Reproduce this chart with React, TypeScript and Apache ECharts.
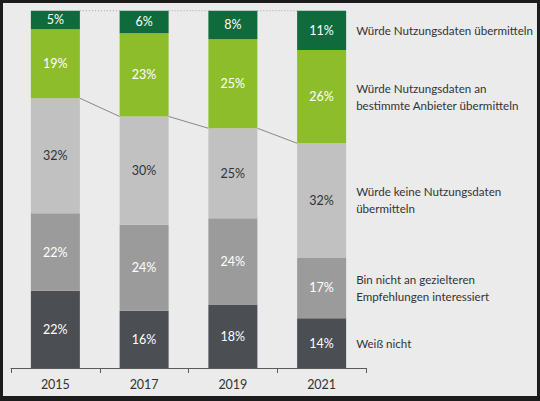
import React, { useEffect, useRef } from "react";
import * as echarts from "echarts";

const categories = ["2015", "2017", "2019", "2021"];
const seriesNames = [
  "Weiß nicht",
  "Bin nicht an gezielteren\nEmpfehlungen interessiert",
  "Würde keine Nutzungsdaten\nübermitteln",
  "Würde Nutzungsdaten an\nbestimmte Anbieter übermitteln",
  "Würde Nutzungsdaten übermitteln",
];
const weissNicht = [21.6, 16.0, 17.8, 13.9];
const nichtInteressiert = [21.7, 24.1, 24.1, 17.0];
const keineDaten = [32.2, 30.3, 25.2, 32.0];
const bestimmteAnbieter = [19.3, 23.3, 24.9, 26.1];
const datenUebermitteln = [5.2, 6.3, 8.0, 11.0];

const seriesValues = [weissNicht, nichtInteressiert, keineDaten, bestimmteAnbieter, datenUebermitteln];
const seriesColors = ["#4b4e53", "#9b9b9b", "#c1c1c1", "#8dbd2b", "#0f6b3c"];
const labelColors = ["#ffffff", "#ffffff", "#333333", "#ffffff", "#ffffff"];

const FONT = "Lato, 'Noto Sans', sans-serif";
const BAR_WIDTH = 49;

function cumulative(upTo: number, idx: number) {
  let s = 0;
  for (let k = 0; k <= upTo; k++) s += seriesValues[k][idx];
  return s;
}

export default function App() {
  const ref = useRef<HTMLDivElement>(null);
  useEffect(() => {
    if (!ref.current) return;
    const chart = echarts.init(ref.current, null, { renderer: "svg" });

    const barSeries = seriesValues.map((vals, s) => ({
      type: "bar",
      name: seriesNames[s],
      stack: "total",
      barWidth: BAR_WIDTH,
      data: vals,
      itemStyle: { color: seriesColors[s] },
      label: {
        show: true,
        position: "inside",
        color: labelColors[s],
        fontFamily: FONT,
        fontSize: 12.5,
        formatter: (p: any) => Math.round(p.value) + "%",
      },
      z: 3,
    }));

    const connectorData = categories.slice(0, -1).map((_, i) => [
      i,
      cumulative(4, i),
      cumulative(4, i + 1),
      cumulative(2, i),
      cumulative(2, i + 1),
    ]);

    const connectors = {
      type: "custom",
      silent: true,
      z: 2,
      data: connectorData,
      encode: { x: 0, y: 1 },
      renderItem: (params: any, api: any) => {
        const i = api.value(0);
        const a1 = api.coord([i, api.value(1)]);
        const b1 = api.coord([i + 1, api.value(2)]);
        const a2 = api.coord([i, api.value(3)]);
        const b2 = api.coord([i + 1, api.value(4)]);
        const h = BAR_WIDTH / 2;
        return {
          type: "group",
          children: [
            {
              type: "line",
              shape: { x1: a1[0] + h, y1: a1[1], x2: b1[0] - h, y2: b1[1] },
              style: { stroke: "#a5a5a5", lineWidth: 1, lineDash: [1, 2] },
            },
            {
              type: "line",
              shape: { x1: a2[0] + h, y1: a2[1], x2: b2[0] - h, y2: b2[1] },
              style: { stroke: "#6f6f6f", lineWidth: 0.8 },
            },
          ],
        };
      },
    };

    const last = categories.length - 1;
    const legendData = seriesNames.map((_, s) => [
      last,
      cumulative(s, last) - seriesValues[s][last] / 2,
      s,
    ]);

    const legendLabels = {
      type: "custom",
      silent: true,
      z: 4,
      data: legendData,
      encode: { x: 0, y: 1 },
      renderItem: (params: any, api: any) => {
        const p = api.coord([api.value(0), api.value(1)]);
        const s = api.value(2);
        return {
          type: "text",
          x: p[0] + BAR_WIDTH / 2 + 10,
          y: p[1],
          style: {
            text: seriesNames[s],
            fill: "#333333",
            font: `11.6px ${FONT}`,
            lineHeight: 17,
            align: "left",
            verticalAlign: "middle",
          },
        };
      },
    };

    chart.setOption({
      animation: false,
      backgroundColor: "#ebebeb",
      grid: { left: 11, top: 10.7, width: 355, height: 357.3, containLabel: false },
      xAxis: {
        type: "category",
        data: categories,
        boundaryGap: true,
        axisLine: { show: true, lineStyle: { color: "#5a5a5a", width: 1 } },
        axisTick: { show: true, length: 5, lineStyle: { color: "#5a5a5a" } },
        axisLabel: { color: "#333333", fontFamily: FONT, fontSize: 12.5, margin: 10 },
      },
      yAxis: { type: "value", min: 0, max: 100, show: false },
      series: [...barSeries, connectors, legendLabels],
      graphic: [
        { type: "rect", shape: { x: 0, y: 0, width: 540, height: 3 }, style: { fill: "#1c1c1c" }, silent: true },
        { type: "rect", shape: { x: 0, y: 396, width: 540, height: 5 }, style: { fill: "#1c1c1c" }, silent: true },
        { type: "rect", shape: { x: 0, y: 0, width: 3, height: 401 }, style: { fill: "#1c1c1c" }, silent: true },
        { type: "rect", shape: { x: 537, y: 0, width: 3, height: 401 }, style: { fill: "#1c1c1c" }, silent: true },
      ],
    });
    return () => chart.dispose();
  }, []);
  return (
    <div
      ref={ref}
      style={{ position: "fixed", left: 0, top: 0, width: 540, height: 401 }}
    />
  );
}
